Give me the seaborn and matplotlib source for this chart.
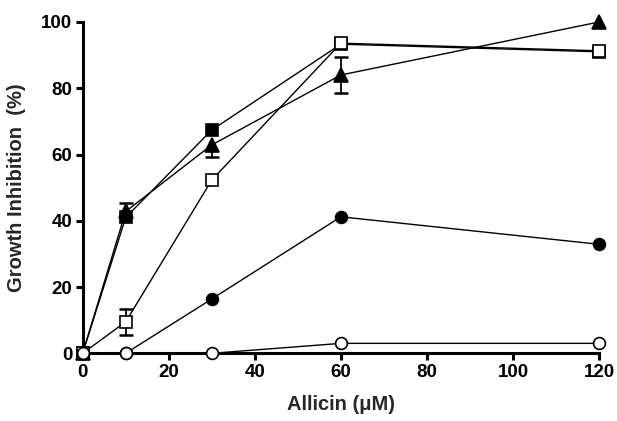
import numpy as np
import pandas as pd
import matplotlib
matplotlib.use("Agg")
import matplotlib.pyplot as plt
import seaborn as sns

# ---- data ----
allicin = [0, 10, 30, 60, 120]

filled_square = [0, 41.0, 67.4, 93.3, 91.0]
triangle = [0, 42.8, 62.9, 84.0, 100.0]
triangle_err_lo = [0, 0, 3.6, 5.4, 0]   # only the visible error-bar halves
triangle_err_hi = [0, 2.6, 0, 5.4, 0]
filled_circle = [0, 0, 16.4, 41.2, 32.9]
open_square = [0, 9.5, 52.3, 93.6, 91.3]
open_square_err_lo = [0, 4.0, 0, 0, 0]
open_square_err_hi = [0, 4.0, 0, 0, 0]
open_circle = [0, 0, 0, 3.0, 3.0]

sns.set_theme(style="ticks")
plt.rcParams["font.family"] = ["Liberation Sans", "DejaVu Sans"]
plt.rcParams["font.weight"] = "bold"

fig = plt.figure(figsize=(6.17, 4.21), dpi=100)
ax = fig.add_axes([0.134, 0.1608, 0.837, 0.787])

# error bars first so markers sit on top
x_arr = np.array(allicin)
for vals, lo, hi in [(triangle, triangle_err_lo, triangle_err_hi),
                     (open_square, open_square_err_lo, open_square_err_hi)]:
    v = np.array(vals)
    lo = np.array(lo)
    hi = np.array(hi)
    ax.errorbar(x_arr, v, yerr=[lo, hi], fmt="none", ecolor="black",
                elinewidth=1.3, capsize=0, zorder=2, clip_on=False)
    # caps only on the drawn ends
    for e, sign in [(lo, -1), (hi, 1)]:
        m = e > 0
        ax.plot(x_arr[m], v[m] + sign * e[m], linestyle="none", marker="_",
                markersize=10, markeredgewidth=1.8, color="black", zorder=2)

series = [
    (filled_square, "s", "black", 8.5),
    (triangle, "^", "black", 10),
    (filled_circle, "o", "black", 8.5),
    (open_square, "s", "white", 8.5),
    (open_circle, "o", "white", 8.5),
]
for i, (vals, mk, face, ms) in enumerate(series):
    sns.lineplot(x=allicin, y=vals, ax=ax, color="black", linewidth=1.0,
                 marker=mk, markersize=ms, markerfacecolor=face,
                 markeredgecolor="black", markeredgewidth=1.2,
                 clip_on=False, zorder=3 + i)

ax.set_xlim(0, 120)
ax.set_ylim(0, 100)
ax.set_xticks([0, 20, 40, 60, 80, 100, 120])
ax.set_yticks([0, 20, 40, 60, 80, 100])

sns.despine(ax=ax)
for side in ["left", "bottom"]:
    ax.spines[side].set_linewidth(2.2)
    ax.spines[side].set_color("black")
ax.tick_params(axis="both", direction="out", length=5, width=2.2,
               colors="black", labelsize=13.5, pad=2.5)
for lab in ax.get_xticklabels() + ax.get_yticklabels():
    lab.set_fontweight("bold")

ax.set_xlabel("Allicin (\u03bcM)", fontsize=14.5, fontweight="bold", labelpad=10)
ax.set_ylabel("Growth Inhibition  (%)", fontsize=14.5, fontweight="bold", labelpad=11)

fig.savefig("out.png", dpi=100)
